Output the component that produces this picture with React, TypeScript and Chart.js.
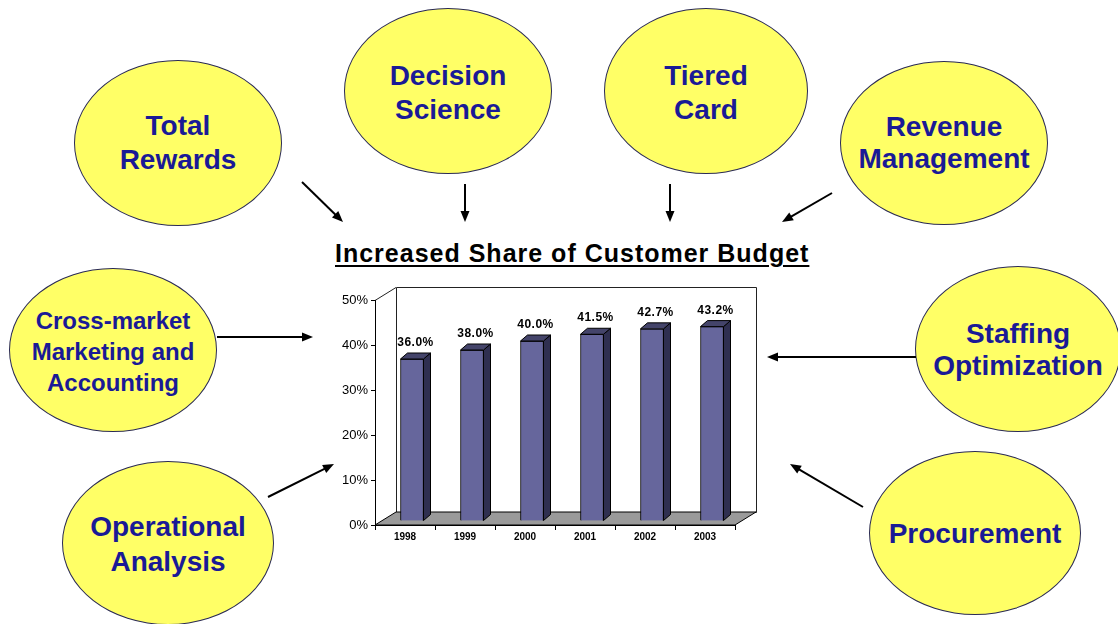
import React, { useEffect, useRef } from 'react';
import { Chart, registerables } from 'chart.js';

Chart.register(...registerables);

// ---------------- data ----------------
const years = ['1998', '1999', '2000', '2001', '2002', '2003'];
const shares = [36.0, 38.0, 40.0, 41.5, 42.7, 43.2];
const yMin = 0;
const yMax = 50;
const yStep = 10;
const chartTitle = 'Increased Share of Customer Budget';

const nodeTotalRewards = ['Total', 'Rewards'];
const nodeDecision = ['Decision', 'Science'];
const nodeTiered = ['Tiered', 'Card'];
const nodeRevenue = ['Revenue', 'Management'];
const nodeCross = ['Cross-market', 'Marketing and', 'Accounting'];
const nodeStaffing = ['Staffing', 'Optimization'];
const nodeOperational = ['Operational', 'Analysis'];
const nodeProcurement = ['Procurement'];

// ---------------- layout / style ----------------
const FONT = "'Liberation Sans', Arial, Helvetica, sans-serif";
const FRONT = '#66669c';
const SIDE = '#2f2f50';
const TOP = '#44446a';
const FLOOR = '#9a9a9a';

const WALL_DX = 21;
const WALL_DY = -13;
const BAR_SHIFT_X = 7;
const BAR_SHIFT_Y = -4;
const BAR_DX = 7;
const BAR_DY = -6;

const CANVAS_LEFT = 320;
const CANVAS_TOP = 270;
const CANVAS_W = 460;
const CANVAS_H = 290;

const nodes = [
  { lines: nodeTotalRewards, cx: 178, cy: 143, rx: 104, ry: 83, fs: 28, lh: 34, dy: 0 },
  { lines: nodeDecision, cx: 448, cy: 91, rx: 104, ry: 83, fs: 28, lh: 34, dy: 2 },
  { lines: nodeTiered, cx: 706, cy: 91, rx: 102, ry: 83, fs: 28, lh: 34, dy: 2 },
  { lines: nodeRevenue, cx: 944, cy: 143, rx: 104, ry: 82, fs: 28, lh: 32, dy: 0 },
  { lines: nodeCross, cx: 113, cy: 350, rx: 104, ry: 82, fs: 24, lh: 31, dy: 1 },
  { lines: nodeStaffing, cx: 1018, cy: 349, rx: 103, ry: 83, fs: 28, lh: 32, dy: 1 },
  { lines: nodeOperational, cx: 168, cy: 543, rx: 106, ry: 82, fs: 28, lh: 35, dy: 1 },
  { lines: nodeProcurement, cx: 975, cy: 533, rx: 106, ry: 82, fs: 28, lh: 34, dy: 1 },
];

const arrows = [
  [302, 182, 343, 222],
  [465, 184, 465, 222],
  [670, 184, 670, 222],
  [832, 193, 782, 222],
  [217, 337, 313, 337],
  [916, 357, 767, 357],
  [268, 497, 334, 464],
  [863, 507, 790, 464],
];

function arrowParts(x1: number, y1: number, x2: number, y2: number) {
  const len = 11;
  const half = 4.5;
  const dx = x2 - x1;
  const dy = y2 - y1;
  const d = Math.hypot(dx, dy);
  const ux = dx / d;
  const uy = dy / d;
  const bx = x2 - ux * len;
  const by = y2 - uy * len;
  const px = -uy * half;
  const py = ux * half;
  return {
    line: { x1, y1, x2: bx + ux * 2, y2: by + uy * 2 },
    head: `${x2},${y2} ${bx + px},${by + py} ${bx - px},${by - py}`,
  };
}

const threeD = {
  id: 'threeD',
  beforeDraw(chart: any) {
    const { ctx, chartArea } = chart;
    const { left: L, right: R, top: T, bottom: B } = chartArea;
    ctx.save();
    ctx.lineWidth = 1;
    ctx.strokeStyle = '#222';
    // left wall
    ctx.fillStyle = '#ffffff';
    ctx.beginPath();
    ctx.moveTo(L, T);
    ctx.lineTo(L + WALL_DX, T + WALL_DY);
    ctx.lineTo(L + WALL_DX, B + WALL_DY);
    ctx.lineTo(L, B);
    ctx.closePath();
    ctx.fill();
    // back wall
    ctx.beginPath();
    ctx.rect(L + WALL_DX + 0.5, T + WALL_DY + 0.5, R - L, B - T);
    ctx.fill();
    ctx.stroke();
    // top-left diagonal
    ctx.beginPath();
    ctx.moveTo(L, T + 0.5);
    ctx.lineTo(L + WALL_DX, T + WALL_DY + 0.5);
    ctx.stroke();
    // floor
    ctx.fillStyle = FLOOR;
    ctx.strokeStyle = '#000';
    ctx.beginPath();
    ctx.moveTo(L, B);
    ctx.lineTo(R, B);
    ctx.lineTo(R + WALL_DX, B + WALL_DY);
    ctx.lineTo(L + WALL_DX, B + WALL_DY);
    ctx.closePath();
    ctx.fill();
    ctx.stroke();
    ctx.restore();
  },
  beforeDatasetsDraw(chart: any) {
    chart.ctx.save();
    chart.ctx.translate(BAR_SHIFT_X, BAR_SHIFT_Y);
  },
  afterDatasetsDraw(chart: any) {
    const { ctx } = chart;
    const meta = chart.getDatasetMeta(0);
    ctx.lineWidth = 1;
    ctx.strokeStyle = '#000';
    meta.data.forEach((bar: any, i: number) => {
      const { x, y, base, width } = bar.getProps(['x', 'y', 'base', 'width'], true);
      const l = x - width / 2;
      const r = x + width / 2;
      // side face
      ctx.fillStyle = SIDE;
      ctx.beginPath();
      ctx.moveTo(r, y);
      ctx.lineTo(r + BAR_DX, y + BAR_DY);
      ctx.lineTo(r + BAR_DX, base + BAR_DY);
      ctx.lineTo(r, base);
      ctx.closePath();
      ctx.fill();
      ctx.stroke();
      // top face
      ctx.fillStyle = TOP;
      ctx.beginPath();
      ctx.moveTo(l, y);
      ctx.lineTo(l + BAR_DX, y + BAR_DY);
      ctx.lineTo(r + BAR_DX, y + BAR_DY);
      ctx.lineTo(r, y);
      ctx.closePath();
      ctx.fill();
      ctx.stroke();
      // value label
      ctx.fillStyle = '#000';
      ctx.font = `bold 12px ${FONT}`;
      try { (ctx as any).letterSpacing = '0.5px'; } catch (e) { /* ignore */ }
      ctx.textAlign = 'center';
      ctx.textBaseline = 'alphabetic';
      ctx.fillText(shares[i].toFixed(1) + '%', x + BAR_DX / 2, y + BAR_DY - 7);
      try { (ctx as any).letterSpacing = '0px'; } catch (e) { /* ignore */ }
    });
    ctx.restore();
  },
};

function BarChart() {
  const ref = useRef<HTMLCanvasElement | null>(null);
  useEffect(() => {
    if (!ref.current) return;
    const chart = new Chart(ref.current, {
      type: 'bar',
      data: {
        labels: years,
        datasets: [
          {
            data: shares,
            backgroundColor: FRONT,
            borderColor: '#000',
            borderWidth: 1,
            barThickness: 23,
            clip: false as any,
          },
        ],
      },
      options: {
        responsive: false,
        maintainAspectRatio: false,
        animation: false,
        devicePixelRatio: 1,
        layout: { padding: { left: 0, right: 45, top: 30, bottom: 10 } },
        plugins: { legend: { display: false }, tooltip: { enabled: false } },
        scales: {
          x: {
            grid: { display: true, drawOnChartArea: false, drawTicks: true, tickLength: 5, color: '#000', offset: true },
            border: { display: true, color: '#000', width: 1 },
            ticks: { color: '#000', font: { family: FONT, size: 10, weight: 'bold' }, padding: 1, maxRotation: 0, autoSkip: false },
            afterFit: (s: any) => { s.height = 25; },
          },
          y: {
            min: yMin,
            max: yMax,
            grid: { display: true, drawOnChartArea: false, drawTicks: true, tickLength: 4, color: '#000' },
            border: { display: true, color: '#000', width: 1 },
            ticks: {
              stepSize: yStep,
              color: '#000',
              font: { family: FONT, size: 13 },
              padding: 3,
              callback: (v: any) => `${v}%`,
            },
            afterFit: (s: any) => { s.width = 55; },
          },
        },
      },
      plugins: [threeD],
    });
    return () => chart.destroy();
  }, []);
  return (
    <canvas
      ref={ref}
      width={CANVAS_W}
      height={CANVAS_H}
      style={{ position: 'absolute', left: CANVAS_LEFT, top: CANVAS_TOP, width: CANVAS_W, height: CANVAS_H }}
    />
  );
}

export default function App() {
  return (
    <div
      style={{
        position: 'absolute',
        left: 0,
        top: 0,
        width: 1118,
        height: 624,
        overflow: 'hidden',
        background: '#ffffff',
        fontFamily: FONT,
      }}
    >
      {nodes.map((n, i) => (
        <div
          key={i}
          style={{
            position: 'absolute',
            left: n.cx - n.rx,
            top: n.cy - n.ry,
            width: n.rx * 2,
            height: n.ry * 2,
            boxSizing: 'border-box',
            borderRadius: '50%',
            background: '#ffff66',
            border: '1.5px solid #2a2a55',
            display: 'flex',
            alignItems: 'center',
            justifyContent: 'center',
          }}
        >
          <div
            style={{
              position: 'relative',
              top: n.dy,
              color: '#1a1a96',
              fontWeight: 'bold',
              fontSize: n.fs,
              lineHeight: `${n.lh}px`,
              textAlign: 'center',
              whiteSpace: 'nowrap',
            }}
          >
            {n.lines.map((t, j) => (
              <div key={j}>{t}</div>
            ))}
          </div>
        </div>
      ))}

      <svg width={1118} height={624} style={{ position: 'absolute', left: 0, top: 0 }}>
        {arrows.map((a, i) => {
          const p = arrowParts(a[0], a[1], a[2], a[3]);
          return (
            <g key={i}>
              <line x1={p.line.x1} y1={p.line.y1} x2={p.line.x2} y2={p.line.y2} stroke="#000" strokeWidth={2} />
              <polygon points={p.head} fill="#000" />
            </g>
          );
        })}
      </svg>

      <div
        style={{
          position: 'absolute',
          left: 335,
          top: 241,
          fontSize: 25,
          lineHeight: '25px',
          fontWeight: 'bold',
          letterSpacing: '1px',
          whiteSpace: 'nowrap',
          color: '#000',
          textDecoration: 'underline',
          textDecorationThickness: '2px',
          textUnderlineOffset: '3px',
        }}
      >
        {chartTitle}
      </div>

      <BarChart />
    </div>
  );
}
